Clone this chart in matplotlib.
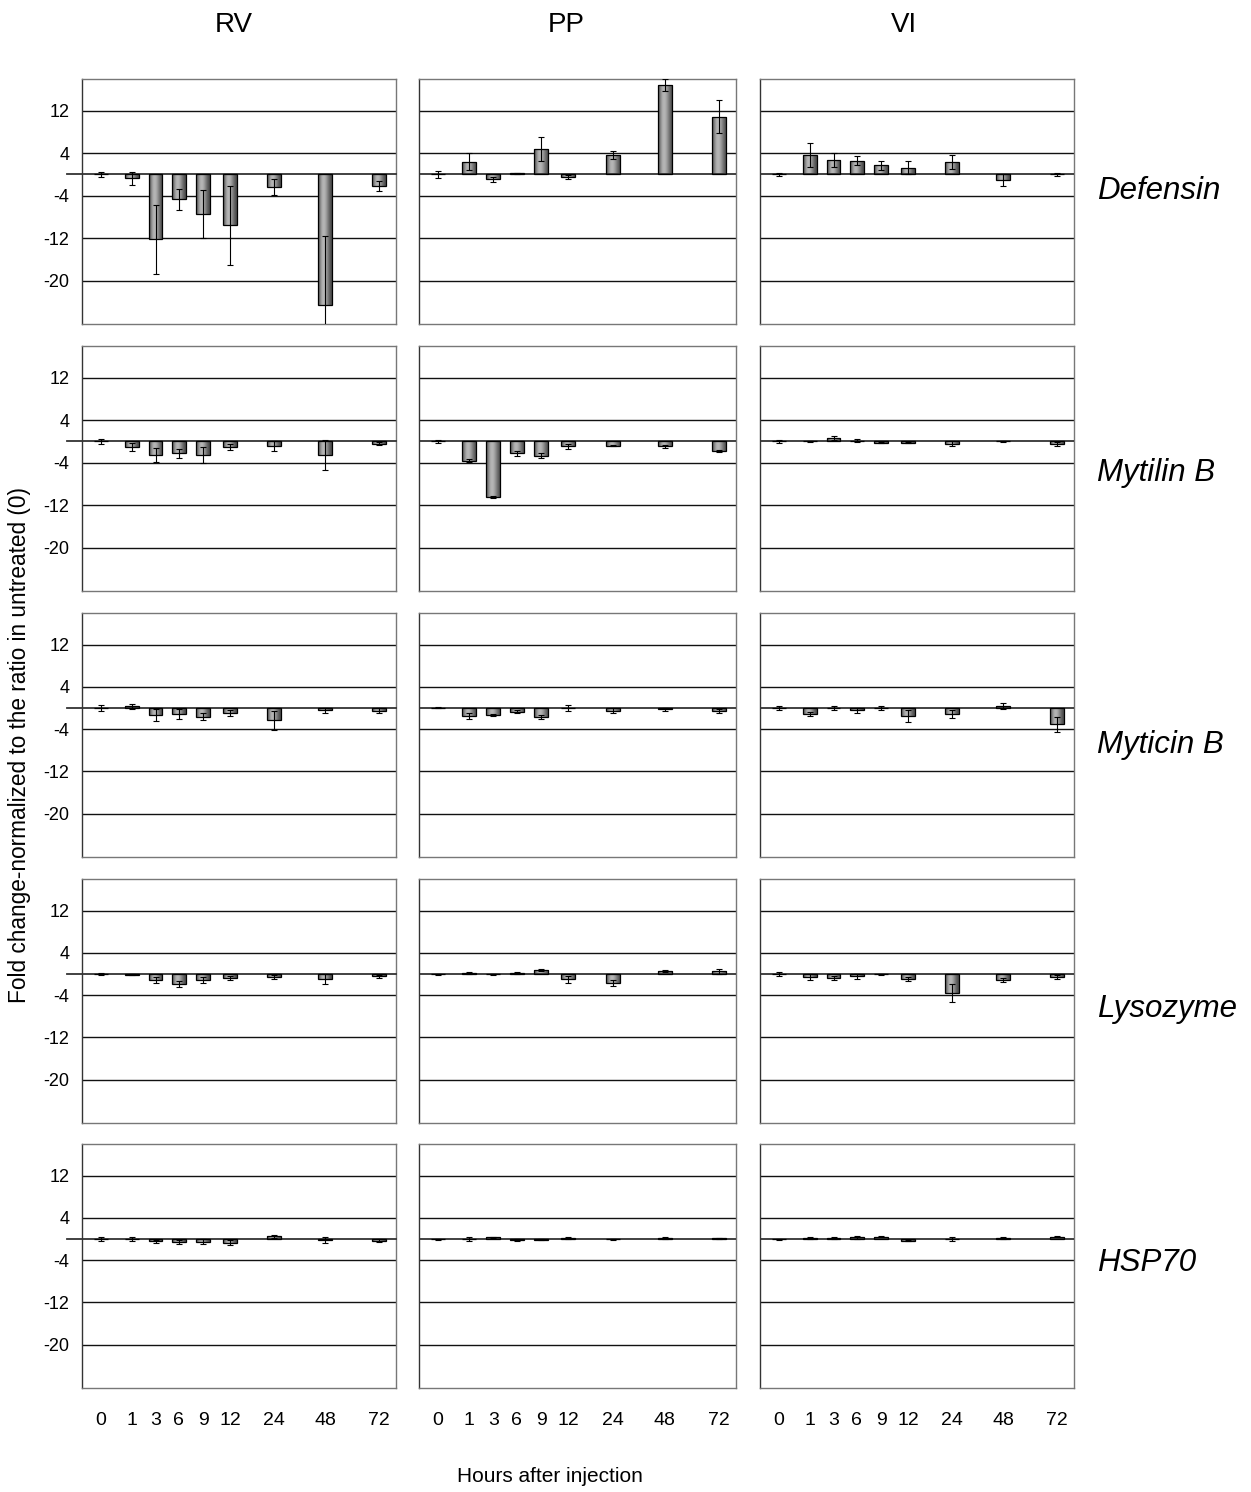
import numpy as np
import matplotlib
matplotlib.use("Agg")
import matplotlib.pyplot as plt

plt.rcParams['font.family'] = ['Liberation Sans', 'DejaVu Sans']

# data: fold change (mean) and error, rows = RV, PP, VI ; columns = hours
hours = ['0', '1', '3', '6', '9', '12', '24', '48', '72']
sites = ['RV', 'PP', 'VI']
genes = ['Defensin', 'Mytilin B', 'Myticin B', 'Lysozyme', 'HSP70']

defensin_mean = [[0.0, -0.75, -12.2, -4.7, -7.4, -9.6, -2.45, -24.6, -2.2],
                 [0.0, 2.4, -0.9, 0.25, 4.8, -0.5, 3.7, 16.8, 10.9],
                 [0.0, 3.7, 2.75, 2.6, 1.7, 1.3, 2.3, -1.07, 0.0]]
defensin_err = [[0.4, 1.25, 6.5, 2.0, 4.5, 7.4, 1.5, 13.0, 0.95],
                [0.7, 1.6, 0.5, 0.1, 2.2, 0.4, 0.75, 1.15, 3.1],
                [0.3, 2.3, 1.3, 0.9, 0.85, 1.2, 1.3, 1.15, 0.3]]

mytilin_mean = [[0.0, -1.07, -2.5, -2.2, -2.6, -1.07, -0.9, -2.6, -0.4],
                [0.0, -3.6, -10.5, -2.2, -2.7, -0.95, -0.8, -0.9, -1.75],
                [0.0, 0.0, 0.6, 0.15, -0.2, -0.2, -0.4, 0.0, -0.5]]
mytilin_err = [[0.55, 0.7, 1.3, 0.85, 1.55, 0.6, 0.9, 2.8, 0.3],
               [0.35, 0.2, 0.15, 0.45, 0.45, 0.45, 0.15, 0.3, 0.15],
               [0.35, 0.15, 0.4, 0.3, 0.1, 0.1, 0.4, 0.15, 0.4]]

myticin_mean = [[0.0, 0.3, -1.3, -1.15, -1.6, -0.95, -2.35, -0.45, -0.5],
                [0.1, -1.5, -1.3, -0.7, -1.7, 0.0, -0.5, -0.2, -0.6],
                [0.0, -1.1, 0.0, -0.45, 0.0, -1.5, -1.1, 0.4, -3.1]]
myticin_err = [[0.5, 0.45, 1.15, 1.0, 0.7, 0.5, 1.75, 0.45, 0.5],
               [0.15, 0.5, 0.15, 0.25, 0.3, 0.5, 0.45, 0.3, 0.4],
               [0.45, 0.35, 0.45, 0.5, 0.3, 1.2, 0.8, 0.65, 1.5]]

lysozyme_mean = [[0.0, -0.15, -1.1, -1.9, -1.1, -0.75, -0.55, -0.9, -0.45],
                 [0.0, 0.2, 0.0, 0.2, 0.75, -1.0, -1.75, 0.55, 0.55],
                 [0.0, -0.55, -0.8, -0.45, 0.0, -1.0, -3.5, -1.15, -0.55]]
lysozyme_err = [[0.15, 0.1, 0.5, 0.55, 0.5, 0.35, 0.4, 0.95, 0.35],
                [0.1, 0.25, 0.1, 0.15, 0.2, 0.6, 0.6, 0.2, 0.45],
                [0.4, 0.55, 0.35, 0.4, 0.1, 0.4, 1.7, 0.4, 0.35]]

hsp70_mean = [[0.0, 0.0, -0.4, -0.5, -0.5, -0.7, 0.5, -0.2, -0.3],
              [0.0, 0.0, 0.3, -0.2, -0.1, 0.2, 0.0, 0.2, 0.15],
              [0.0, 0.2, 0.2, 0.3, 0.4, -0.3, 0.0, 0.2, 0.4]]
hsp70_err = [[0.4, 0.4, 0.3, 0.4, 0.5, 0.5, 0.3, 0.6, 0.3],
             [0.1, 0.3, 0.1, 0.2, 0.1, 0.2, 0.1, 0.2, 0.1],
             [0.1, 0.1, 0.2, 0.2, 0.1, 0.1, 0.3, 0.1, 0.1]]

means = [defensin_mean, mytilin_mean, myticin_mean, lysozyme_mean, hsp70_mean]
errs = [defensin_err, mytilin_err, myticin_err, lysozyme_err, hsp70_err]

# layout (pixels of the 1251x1492 figure)
W, H = 1251, 1492
col_px = [(82, 396), (419, 736), (760, 1074)]
row_px = [(79, 324), (346, 591), (613, 857), (879, 1123), (1144, 1388)]
title_x = [234, 566, 904]
label_y = [191, 473, 745, 1009, 1263]
slot_x = [19, 50, 74, 97.5, 122, 149, 193, 245, 299]   # uneven category slots
bar_w = 14

fig = plt.figure(figsize=(W / 100, H / 100), dpi=100)

def rect(x0, x1, y0, y1):
    return [x0 / W, 1 - y1 / H, (x1 - x0) / W, (y1 - y0) / H]

# cylinder-like shading used by the bars
grad = np.array([[0.36, 0.55, 0.70, 0.72, 0.65, 0.52, 0.40, 0.30]])

for r, gene in enumerate(genes):
    for c, site in enumerate(sites):
        ax = fig.add_axes(rect(*col_px[c], *row_px[r]))
        m = means[r][c]
        e = errs[r][c]
        bars = ax.bar(slot_x, m, width=bar_w, facecolor='none',
                      edgecolor='black', linewidth=0.9, zorder=4)
        for b in bars:
            x0, w = b.get_x(), b.get_width()
            h = b.get_height()
            if abs(h) < 1e-6:
                continue
            im = ax.imshow(grad, extent=(x0, x0 + w, min(0, h), max(0, h)),
                           cmap='gray', vmin=0, vmax=1, aspect='auto',
                           interpolation='bicubic', zorder=3)
            im.set_clip_path(b)
        ax.errorbar(slot_x, m, yerr=e, fmt='none', ecolor='black',
                    elinewidth=0.8, capsize=2.5, capthick=0.8, zorder=5)
        ax.set_xlim(0, 316)
        ax.set_ylim(-28.2, 18)
        ax.set_yticks([-20, -12, -4, 4, 12])
        ax.yaxis.grid(True, color='#111111', linewidth=1.0)
        ax.set_axisbelow(True)
        if c == 0:
            ax.plot([-0.048, 1], [0, 0], color='#333333', linewidth=1.3,
                    transform=ax.get_yaxis_transform(), clip_on=False, zorder=3)
            ax.set_yticklabels(['-20', '-12', '-4', '4', '12'], fontsize=13)
        else:
            ax.axhline(0, color='#333333', linewidth=1.3, zorder=3)
            ax.set_yticklabels([])
        ax.tick_params(axis='y', length=0, pad=9)
        if r == len(genes) - 1:
            ax.set_xticks(slot_x, labels=hours, fontsize=14)
            ax.tick_params(axis='x', length=0, pad=17)
        else:
            ax.set_xticks([])
        for s in ax.spines.values():
            s.set_color('#777777')
            s.set_linewidth(1.0)
        ax.spines['left'].set_color('#333333')

for c, site in enumerate(sites):
    fig.text(title_x[c] / W, 1 - 25 / H, site, fontsize=20,
             ha='center', va='center')

for r, gene in enumerate(genes):
    fig.text(1097 / W, 1 - label_y[r] / H, gene, fontsize=22.5,
             style='italic', ha='left', va='center')

fig.text(20 / W, 1 - 745 / H,
         'Fold change-normalized to the ratio in untreated (0)',
         fontsize=16.3, rotation=90, ha='center', va='center')
fig.text(550 / W, 1 - 1477 / H, 'Hours after injection', fontsize=15,
         ha='center', va='center')

fig.savefig('out.png', dpi=100, facecolor='white')
